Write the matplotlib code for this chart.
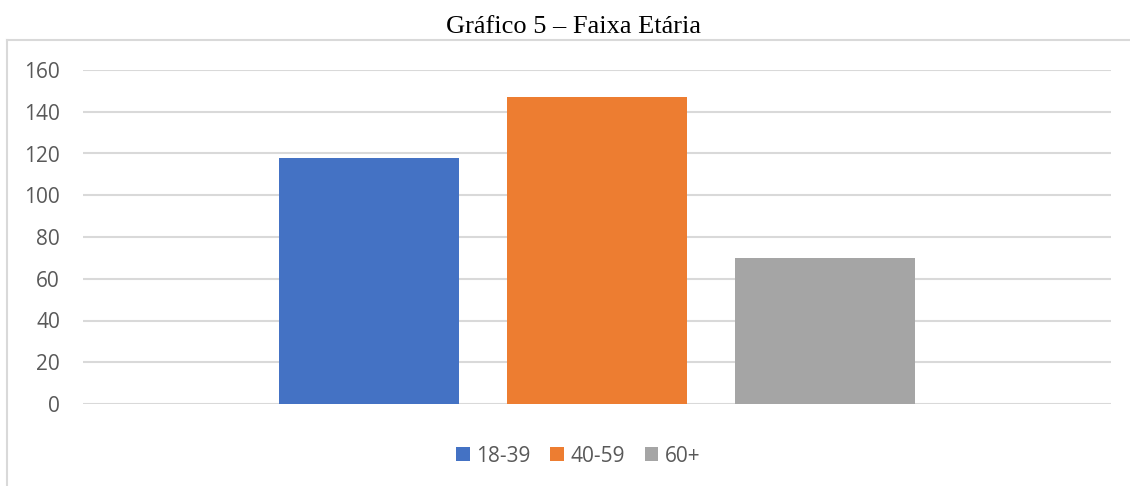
import matplotlib
matplotlib.use("Agg")
import matplotlib.pyplot as plt
from matplotlib.patches import Patch
from matplotlib.lines import Line2D

title = "Gráfico 5 – Faixa Etária"
series = ["18-39", "40-59", "60+"]
values = [118, 147, 70]
colors = ["#4472C4", "#ED7D31", "#A5A5A5"]
yticks = [0, 20, 40, 60, 80, 100, 120, 140, 160]

W, H = 1130, 486
fig = plt.figure(figsize=(W / 100, H / 100), dpi=100)
fig.patch.set_facecolor("white")

# outer chart border (left and top visible)
fig.add_artist(Line2D([7 / W, 7 / W], [0, (H - 40) / H], transform=fig.transFigure,
                      color="#D9D9D9", lw=1.5))
fig.add_artist(Line2D([7 / W, 1.0], [(H - 40) / H, (H - 40) / H], transform=fig.transFigure,
                      color="#D9D9D9", lw=1.5))

left, right = 83 / W, 1111 / W
top, bottom = (H - 70) / H, (H - 404) / H
ax = fig.add_axes([left, bottom, right - left, top - bottom])

xs = [-1, 0, 1]
for x, v, c in zip(xs, values, colors):
    ax.bar(x, v, width=180 / 228, color=c, zorder=2)

half = 514 / 228
ax.set_xlim(-half, half)
ax.set_ylim(0, 160)
ax.set_yticks(yticks)
ax.set_xticks([])
ax.grid(axis="y", color="#D9D9D9", lw=1.5, zorder=0)
ax.set_axisbelow(True)
for s in ax.spines.values():
    s.set_visible(False)
ax.tick_params(axis="y", length=0, pad=16.5, labelcolor="#595959", labelsize=15)
for lab in ax.get_yticklabels():
    lab.set_fontfamily("Open Sans")

fig.text(574 / W, (H - 27) / H, title, ha="center", va="center",
         fontsize=19, family="Liberation Serif", color="black")

handles = [Patch(facecolor=c, edgecolor="none", label=s) for s, c in zip(series, colors)]
leg = fig.legend(handles=handles, loc="center", bbox_to_anchor=(578 / W, (H - 456) / H),
                 ncol=3, frameon=False, handlelength=0.67, handleheight=0.67,
                 handletextpad=0.3, columnspacing=0.95,
                 prop={"family": "Open Sans", "size": 15})
for t in leg.get_texts():
    t.set_color("#595959")

fig.savefig("out.png", dpi=100, facecolor="white")
